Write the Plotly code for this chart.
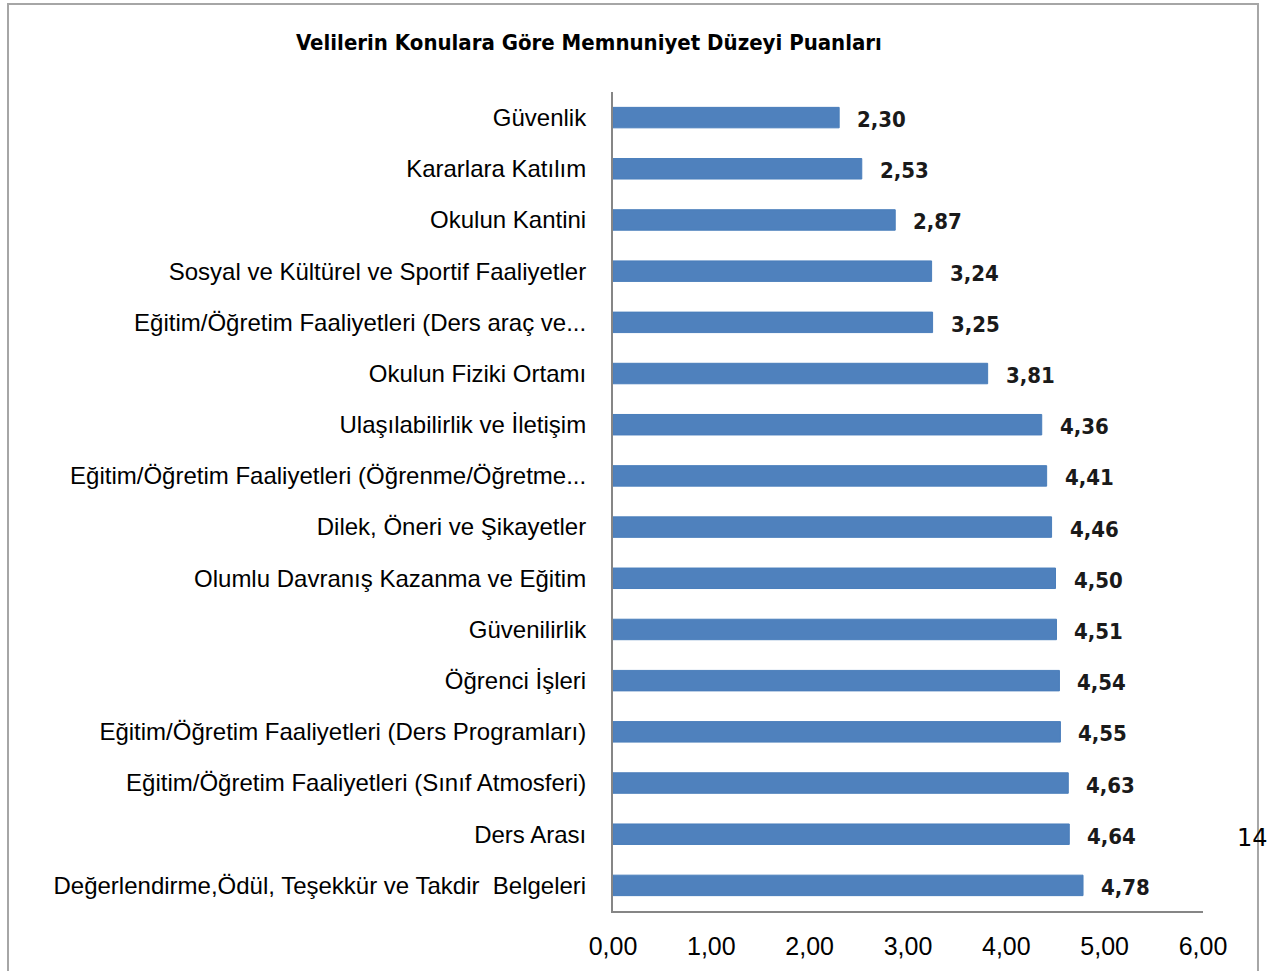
import plotly.graph_objects as go

categories = [
    "Güvenlik",
    "Kararlara Katılım",
    "Okulun Kantini",
    "Sosyal ve Kültürel ve Sportif Faaliyetler",
    "Eğitim/Öğretim Faaliyetleri (Ders araç ve...",
    "Okulun Fiziki Ortamı",
    "Ulaşılabilirlik ve İletişim",
    "Eğitim/Öğretim Faaliyetleri (Öğrenme/Öğretme...",
    "Dilek, Öneri ve Şikayetler",
    "Olumlu Davranış Kazanma ve Eğitim",
    "Güvenilirlik",
    "Öğrenci İşleri",
    "Eğitim/Öğretim Faaliyetleri (Ders Programları)",
    "Eğitim/Öğretim Faaliyetleri (Sınıf Atmosferi)",
    "Ders Arası",
    "Değerlendirme,Ödül, Teşekkür ve Takdir  Belgeleri",
]
values = [2.30, 2.53, 2.87, 3.24, 3.25, 3.81, 4.36, 4.41, 4.46, 4.50,
          4.51, 4.54, 4.55, 4.63, 4.64, 4.78]
tick_vals = [0, 1, 2, 3, 4, 5, 6]
title_text = "Velilerin Konulara Göre Memnuniyet Düzeyi Puanları"

fig = go.Figure()
fig.add_trace(go.Bar(
    x=values, y=categories, orientation="h",
    marker=dict(color="#4F81BD", line=dict(color="#4A7EBB", width=1)),
    width=0.4,
    hoverinfo="x+y",
))

for c, v in zip(categories, values):
    fig.add_annotation(
        x=v, y=c, xref="x", yref="y",
        text="<b>" + f"{v:.2f}".replace(".", ",") + "</b>",
        showarrow=False, xanchor="left", yanchor="middle",
        xshift=16, yshift=-2,
        font=dict(family="DejaVu Sans Condensed", size=22, color="#1a1a1a"),
    )

fig.add_annotation(
    text="<b>" + title_text + "</b>", xref="paper", yref="paper",
    x=-0.0407, y=1.0, yshift=50, xanchor="center", yanchor="middle",
    showarrow=False,
    font=dict(family="DejaVu Sans Condensed", size=22, color="#000000"),
)

fig.add_annotation(
    text="14", xref="paper", yref="paper", x=1.0, y=0.089,
    xshift=32, xanchor="left", yanchor="middle", showarrow=False,
    font=dict(family="DejaVu Sans", size=24, color="#000000"),
)

# outer chart border
fig.add_shape(type="rect", xref="paper", yref="paper",
              x0=-1.0254, x1=1.0932, y0=-0.12, y1=1.1075,
              line=dict(color="#A6A6A6", width=2), fillcolor="rgba(0,0,0,0)")

fig.update_layout(
    width=1270, height=971,
    margin=dict(l=613, r=67, t=92, b=60),
    paper_bgcolor="white", plot_bgcolor="white",
    separators=",.",
    showlegend=False,
    bargap=0.6,
    font=dict(family="Liberation Sans", color="#000000"),
)
fig.update_xaxes(
    range=[0, 6], tickvals=tick_vals, tickformat=".2f",
    showgrid=False, zeroline=False,
    showline=True, linecolor="#868686", linewidth=2,
    ticks="", ticklen=0, ticklabelstandoff=12,
    tickfont=dict(family="Liberation Sans", size=25, color="#000000"),
)
fig.update_yaxes(
    autorange="reversed",
    showgrid=False, zeroline=False,
    showline=True, linecolor="#868686", linewidth=2,
    ticks="", ticklabelstandoff=20,
    tickfont=dict(family="Liberation Sans", size=24, color="#000000"),
)

fig.write_html("out.html", config={"displayModeBar": False},
               post_script="document.body.style.margin='0';")
